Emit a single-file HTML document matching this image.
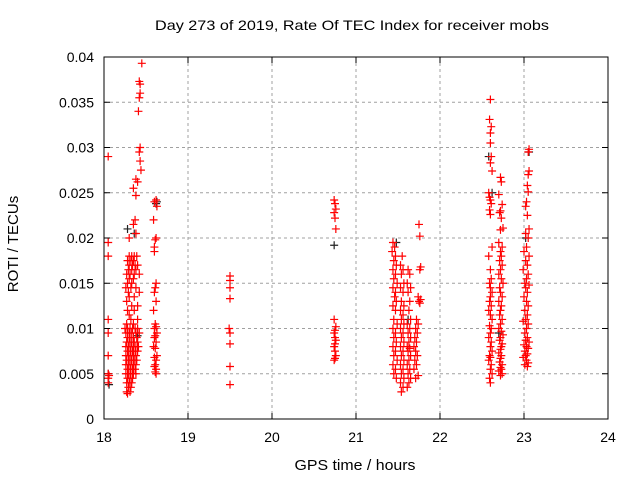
<!DOCTYPE html>
<html><head><meta charset="utf-8"><style>
body{margin:0;background:#fff;}
svg text{font-family:"Liberation Sans",sans-serif;}
</style></head><body>
<svg id="chart" width="640" height="480" xmlns="http://www.w3.org/2000/svg">
<rect width="640" height="480" fill="#fff"/>
<text x="352" y="30" font-size="14" text-anchor="middle" textLength="394" lengthAdjust="spacingAndGlyphs">Day 273 of 2019, Rate Of TEC Index for receiver mobs</text>
<text x="355" y="470" font-size="15" text-anchor="middle" textLength="121" lengthAdjust="spacingAndGlyphs">GPS time / hours</text>
<text transform="translate(18,244) rotate(-90)" font-size="15" text-anchor="middle">ROTI / TECUs</text>
<g id="grid"></g>
<g id="ticks"></g>
<g id="marks"></g>
<rect x="104" y="57" width="504" height="362" fill="none" stroke="#000" stroke-width="1"/>
</svg>
<script>
const xTicks=[18,19,20,21,22,23,24];
const yTicks=[0,0.005,0.01,0.015,0.02,0.025,0.03,0.035,0.04];
const yTickLabels=["0","0.005","0.01","0.015","0.02","0.025","0.03","0.035","0.04"];
// [time, roti] pairs per pass
const passA=[[18.05,0.029],[18.05,0.0195],[18.05,0.018],[18.05,0.011],[18.05,0.0095],[18.05,0.007],[18.05,0.005],[18.06,0.0048],[18.05,0.0045],[18.05,0.004]];
const passBTop=[[18.45,0.0393],[18.42,0.0373],[18.43,0.037],[18.43,0.036],[18.42,0.0355],[18.41,0.034],[18.43,0.030],[18.42,0.0295],[18.43,0.0285],[18.44,0.0275],[18.38,0.0265],[18.4,0.0262],[18.35,0.0255],[18.38,0.0247],[18.37,0.022],[18.35,0.0215],[18.38,0.0205],[18.3,0.02]];
const passBMid=[[18.3,0.018],[18.33,0.018],[18.36,0.018],[18.39,0.018],[18.28,0.0175],[18.32,0.0175],[18.35,0.0175],[18.3,0.017],[18.34,0.017],[18.37,0.017],[18.4,0.017],[18.29,0.0165],[18.33,0.0165],[18.38,0.0165],[18.27,0.016],[18.31,0.016],[18.36,0.016],[18.42,0.016],[18.3,0.0155],[18.35,0.0155],[18.28,0.015],[18.33,0.015],[18.26,0.0145],[18.32,0.0145],[18.38,0.0145],[18.29,0.014],[18.42,0.014],[18.3,0.0135],[18.36,0.0135],[18.27,0.013],[18.33,0.0125],[18.4,0.0125],[18.28,0.012],[18.36,0.012],[18.3,0.0115]];
const passBLow=[[18.32,0.011],[18.4,0.011],[18.27,0.0105],[18.35,0.0105],[18.25,0.01],[18.28,0.01],[18.31,0.01],[18.34,0.01],[18.37,0.01],[18.4,0.01],[18.26,0.0095],[18.3,0.0095],[18.33,0.0095],[18.38,0.0095],[18.42,0.0095],[18.28,0.009],[18.31,0.009],[18.35,0.009],[18.39,0.009],[18.27,0.0085],[18.3,0.0085],[18.33,0.0085],[18.36,0.0085],[18.4,0.0085],[18.26,0.008],[18.29,0.008],[18.32,0.008],[18.35,0.008],[18.38,0.008],[18.41,0.008],[18.28,0.0075],[18.31,0.0075],[18.34,0.0075],[18.37,0.0075],[18.4,0.0075],[18.26,0.007],[18.29,0.007],[18.32,0.007],[18.35,0.007],[18.38,0.007],[18.27,0.0065],[18.3,0.0065],[18.33,0.0065],[18.36,0.0065],[18.39,0.0065],[18.26,0.006],[18.29,0.006],[18.32,0.006],[18.35,0.006],[18.38,0.006],[18.28,0.0055],[18.31,0.0055],[18.34,0.0055],[18.37,0.0055],[18.26,0.005],[18.29,0.005],[18.32,0.005],[18.35,0.005],[18.38,0.005],[18.28,0.0045],[18.31,0.0045],[18.34,0.0045],[18.27,0.004],[18.3,0.004],[18.33,0.004],[18.29,0.0035],[18.32,0.0035],[18.27,0.003],[18.31,0.003],[18.28,0.0028]];
const passC=[[18.62,0.0242],[18.6,0.024],[18.63,0.0235],[18.59,0.022],[18.62,0.02],[18.61,0.0198],[18.6,0.019],[18.6,0.0185],[18.62,0.015],[18.61,0.0145],[18.6,0.014],[18.62,0.013],[18.59,0.012],[18.61,0.0105],[18.62,0.0102],[18.6,0.01],[18.63,0.0095],[18.61,0.0092],[18.6,0.009],[18.62,0.0085],[18.59,0.008],[18.61,0.0078],[18.63,0.007],[18.6,0.0068],[18.62,0.0065],[18.61,0.006],[18.6,0.0058],[18.62,0.0055],[18.61,0.0052],[18.62,0.005]];
const passD=[[19.5,0.0158],[19.5,0.0153],[19.5,0.0145],[19.5,0.0133],[19.49,0.01],[19.5,0.0095],[19.5,0.0083],[19.5,0.0058],[19.5,0.0038]];
const passE=[[20.74,0.0242],[20.75,0.0238],[20.76,0.0232],[20.74,0.0228],[20.75,0.0222],[20.76,0.021],[20.74,0.011],[20.76,0.0102],[20.75,0.0098],[20.74,0.0095],[20.75,0.009],[20.76,0.0087],[20.75,0.0083],[20.74,0.008],[20.75,0.0075],[20.76,0.007],[20.75,0.0067],[20.74,0.0065]];
const passF1=[[21.44,0.0195],[21.46,0.019],[21.43,0.0185],[21.47,0.018],[21.45,0.0175],[21.48,0.017],[21.44,0.0165],[21.47,0.016],[21.45,0.0155],[21.49,0.015],[21.44,0.0145],[21.47,0.014],[21.46,0.0135],[21.48,0.013],[21.44,0.0125],[21.47,0.012],[21.45,0.011],[21.49,0.0105],[21.44,0.01],[21.47,0.0095],[21.45,0.009],[21.48,0.0085],[21.44,0.008],[21.47,0.0075],[21.45,0.007],[21.49,0.0065],[21.44,0.006],[21.47,0.0055],[21.45,0.005],[21.48,0.0045]];
const passF2=[[21.55,0.018],[21.53,0.017],[21.56,0.0165],[21.54,0.016],[21.57,0.015],[21.53,0.0145],[21.56,0.014],[21.54,0.013],[21.57,0.0125],[21.53,0.012],[21.56,0.0115],[21.54,0.011],[21.57,0.0105],[21.53,0.01],[21.56,0.0095],[21.54,0.009],[21.57,0.0085],[21.53,0.008],[21.56,0.0075],[21.54,0.007],[21.57,0.0065],[21.53,0.006],[21.56,0.0055],[21.54,0.005],[21.57,0.0045],[21.53,0.004],[21.56,0.0035],[21.54,0.003]];
const passF3=[[21.62,0.0165],[21.64,0.016],[21.61,0.015],[21.65,0.0145],[21.62,0.014],[21.64,0.013],[21.63,0.012],[21.65,0.011],[21.61,0.0105],[21.64,0.01],[21.62,0.0095],[21.65,0.009],[21.63,0.0085],[21.61,0.008],[21.64,0.0078],[21.62,0.0075],[21.65,0.007],[21.63,0.0065],[21.61,0.006],[21.64,0.0055],[21.62,0.005],[21.65,0.0045],[21.63,0.004],[21.61,0.0035]];
const passF4=[[21.75,0.0215],[21.76,0.0202],[21.77,0.0168],[21.76,0.0165],[21.74,0.0135],[21.77,0.0132],[21.75,0.013],[21.76,0.0128],[21.72,0.011],[21.74,0.0105],[21.71,0.01],[21.73,0.0095],[21.7,0.009],[21.72,0.0085],[21.69,0.008],[21.71,0.0075],[21.73,0.007],[21.7,0.0065],[21.72,0.006],[21.69,0.0055],[21.74,0.0048],[21.71,0.0045]];
const passG1=[[22.6,0.0353],[22.59,0.0331],[22.61,0.0323],[22.6,0.0316],[22.6,0.0305],[22.61,0.029],[22.6,0.0283],[22.62,0.0274],[22.58,0.025],[22.59,0.0245],[22.6,0.0242],[22.61,0.0238],[22.59,0.0231],[22.6,0.0226],[22.62,0.019],[22.58,0.018],[22.6,0.0165],[22.61,0.0155],[22.59,0.015],[22.6,0.0145],[22.62,0.014],[22.6,0.0135],[22.59,0.013],[22.61,0.0125],[22.58,0.012],[22.6,0.0115],[22.62,0.011],[22.59,0.0103],[22.61,0.01],[22.6,0.0095],[22.58,0.009],[22.61,0.0085],[22.6,0.008],[22.62,0.0075],[22.59,0.007],[22.6,0.0068],[22.58,0.0065],[22.61,0.006],[22.6,0.0055],[22.62,0.005],[22.59,0.0045],[22.6,0.004]];
const passG2=[[22.72,0.0267],[22.73,0.0262],[22.7,0.0248],[22.74,0.0237],[22.72,0.023],[22.71,0.0228],[22.73,0.0222],[22.75,0.0211],[22.72,0.0209],[22.7,0.0195],[22.74,0.019],[22.72,0.0185],[22.73,0.018],[22.71,0.0175],[22.74,0.017],[22.72,0.0165],[22.7,0.016],[22.73,0.0155],[22.75,0.015],[22.71,0.0145],[22.72,0.014],[22.74,0.0135],[22.7,0.013],[22.73,0.0125],[22.72,0.012],[22.71,0.0115],[22.74,0.011],[22.72,0.0105],[22.7,0.01],[22.73,0.0097],[22.75,0.0093],[22.72,0.009],[22.71,0.0087],[22.74,0.0083],[22.73,0.008],[22.72,0.0077],[22.7,0.0073],[22.73,0.007],[22.72,0.0067],[22.71,0.0063],[22.74,0.006],[22.72,0.0057],[22.73,0.0055],[22.7,0.0053],[22.74,0.005],[22.72,0.0048]];
const passH=[[23.06,0.0298],[23.05,0.0295],[23.06,0.0274],[23.05,0.027],[23.04,0.0258],[23.05,0.0251],[23.03,0.024],[23.02,0.0235],[23.04,0.0225],[23.06,0.021],[23.02,0.0205],[23.05,0.02],[23.03,0.019],[23.0,0.0185],[23.06,0.018],[23.02,0.0175],[23.04,0.017],[22.99,0.0165],[23.05,0.016],[23.03,0.0155],[23.01,0.015],[23.06,0.0148],[23.02,0.0145],[23.04,0.014],[23.0,0.0135],[23.03,0.013],[23.05,0.0125],[23.01,0.012],[23.04,0.0115],[23.02,0.011],[22.99,0.0108],[23.05,0.0105],[23.03,0.01],[23.01,0.0095],[23.04,0.009],[23.02,0.0087],[23.06,0.0085],[23.0,0.0082],[23.03,0.008],[23.05,0.0078],[23.01,0.0075],[23.04,0.0072],[23.02,0.007],[22.99,0.0068],[23.03,0.0065],[23.05,0.0062],[23.01,0.006],[23.04,0.0058]];
const darkPoints=[[18.05,0.005],[18.06,0.0038],[18.28,0.021],[18.36,0.0205],[18.62,0.0238],[18.63,0.024],[20.74,0.0192],[21.48,0.0195],[21.62,0.011],[22.58,0.029],[22.62,0.025],[22.7,0.0095],[23.06,0.0295],[23.02,0.02],[18.4,0.0092]];
const redPasses=[passA,passBTop,passBMid,passBLow,passC,passD,passE,passF1,passF2,passF3,passF4,passG1,passG2,passH];

const X0=104,X1=608,Y0=419,Y1=57;
function sx(t){return X0+(t-18)/6*(X1-X0);}
function sy(v){return Y0-v/0.04*(Y0-Y1);}
const NS="http://www.w3.org/2000/svg";
const grid=document.getElementById('grid'),ticks=document.getElementById('ticks'),marks=document.getElementById('marks');
function mk(tag,attrs,parent){const e=document.createElementNS(NS,tag);for(const k in attrs)e.setAttribute(k,attrs[k]);parent.appendChild(e);return e;}
xTicks.forEach(t=>{
  const x=sx(t);
  if(t>18&&t<24){const g=mk('line',{x1:x,x2:x,y1:Y1,y2:Y0,stroke:'#a0a0a0','stroke-dasharray':'3,3'},grid);
  
  }
  mk('line',{x1:x,x2:x,y1:Y0,y2:Y0-6,stroke:'#000'},ticks);
  mk('line',{x1:x,x2:x,y1:Y1,y2:Y1+6,stroke:'#000'},ticks);
  const l=mk('text',{x:x,y:Y0+23,'font-size':'14','text-anchor':'middle'},ticks);
  l.textContent=t;
  
  
});
yTicks.forEach((v,i)=>{
  const y=sy(v);
  if(i>0&&i<yTicks.length-1){const g=mk('line',{x1:X0,x2:X1,y1:y,y2:y,stroke:'#a0a0a0','stroke-dasharray':'3,3'},grid);
  
  }
  mk('line',{x1:X0,x2:X0+6,y1:y,y2:y,stroke:'#000'},ticks);
  mk('line',{x1:X1,x2:X1-6,y1:y,y2:y,stroke:'#000'},ticks);
  const l=mk('text',{x:X0-10,y:y+5,'font-size':'14','text-anchor':'end'},ticks);
  l.textContent=yTickLabels[i];
  
  
});
function plus(t,v,color,name){
  const x=sx(t),y=sy(v);
  const p=mk('path',{d:`M${x-4},${y}H${x+4}M${x},${y-4}V${y+4}`,stroke:color,'stroke-width':'1.2',fill:'none'},marks);
  
  
}
darkPoints.forEach(p=>plus(p[0],p[1],'#222','roti-point-dark'));
redPasses.forEach(pass=>pass.forEach(p=>plus(p[0],p[1],'#ff0000','roti-point')));
</script>
</body></html>
